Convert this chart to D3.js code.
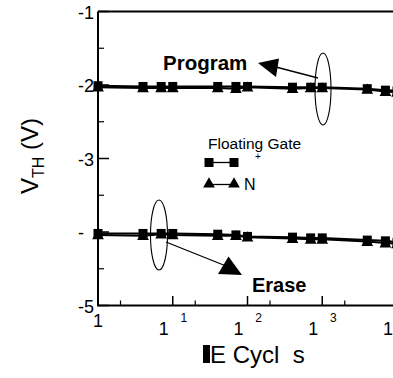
<!DOCTYPE html>
<html><head><meta charset="utf-8">
<script src="https://cdn.jsdelivr.net/npm/d3@7"></script>
<style>
body{margin:0;background:#fff;}
svg{display:block;font-family:"Liberation Sans",Arial,sans-serif;}
</style></head>
<body><svg id="c" width="393" height="378"></svg>
<script>
const cycles = [1, 4, 7, 10, 40, 70, 100, 400, 700, 1000, 4000, 7000, 10000];
const progP = [-2.01,-2.02,-2.02,-2.02,-2.02,-2.02,-2.02,-2.03,-2.03,-2.03,-2.05,-2.07,-2.08];
const progN = [-2.03,-2.04,-2.04,-2.04,-2.04,-2.05,-2.03,-2.05,-2.04,-2.04,-2.06,-2.09,-2.10];
const eraseP = [-4.02,-4.02,-4.02,-4.02,-4.03,-4.04,-4.06,-4.07,-4.08,-4.08,-4.11,-4.12,-4.14];
const eraseN = [-4.04,-4.05,-4.03,-4.04,-4.05,-4.05,-4.07,-4.09,-4.10,-4.10,-4.13,-4.15,-4.16];
const yTicks = [-1,-2,-3,-4,-5];
const yTickLabels = ["-1","-2","-3","-","-5"];
const xDecades = [1,10,100,1000,10000];
const xSup = ["","1","2","3","4"];

const svg = d3.select("#c");
const x = d3.scaleLog().domain([1,10000]).range([98,397]);
const y = d3.scaleLinear().domain([-5,-1]).range([305.5,11.5]);

// frame
svg.append("path").attr("d",`M98,11.5H393M98,11.5V305.5H393`).attr("fill","none").attr("stroke","#000").attr("stroke-width",2);

// y ticks
yTicks.forEach(v=>{
  svg.append("line").attr("x1",98).attr("x2",109).attr("y1",y(v)).attr("y2",y(v)).attr("stroke","#000").attr("stroke-width",1.5);
});
[-1.5,-2.5,-3.5,-4.5].forEach(v=>{
  svg.append("line").attr("x1",98).attr("x2",104).attr("y1",y(v)).attr("y2",y(v)).attr("stroke","#000").attr("stroke-width",1.2);
});
yTicks.forEach((v,i)=>{
  const t = svg.append("text").attr("x",94).attr("y",y(v)+7).attr("text-anchor","end").attr("font-size",18);
  t.append("tspan").text(yTickLabels[i]);
  if(yTickLabels[i]==="-") t.append("tspan").attr("fill-opacity",0).text("4");
});
// x ticks
xDecades.forEach(v=>{
  svg.append("line").attr("x1",x(v)).attr("x2",x(v)).attr("y1",305.5).attr("y2",296).attr("stroke","#000").attr("stroke-width",1.5);
});
[2,20,200,2000].forEach(v=>{
  svg.append("line").attr("x1",x(v)).attr("x2",x(v)).attr("y1",305.5).attr("y2",300.5).attr("stroke","#000").attr("stroke-width",1.2);
});
xDecades.forEach((v,i)=>{
  if(i===0){
    svg.append("text").attr("x",x(v)).attr("y",327).attr("text-anchor","middle").attr("font-size",18).text("1");
  } else {
    svg.append("text").attr("x",x(v)-9).attr("y",335).attr("text-anchor","middle").attr("font-size",18).text("1");
    if(i<4) svg.append("text").attr("x",x(v)+11).attr("y",322).attr("text-anchor","middle").attr("font-size",12).text(xSup[i]);
  }
});

// axis titles
const yl = svg.append("text").attr("transform","translate(38,156) rotate(-90)").attr("text-anchor","middle").attr("font-size",24);
yl.append("tspan").text("V");
yl.append("tspan").attr("font-size",16).attr("dy",6).text("TH");
yl.append("tspan").attr("dy",-6).text(" (V)");
svg.append("rect").attr("x",203).attr("y",345).attr("width",7).attr("height",18).attr("fill","#000");
svg.append("text").attr("x",210).attr("y",363).attr("font-size",24).attr("xml:space","preserve").text("E Cycl  s");

// caption fragment (faint, mostly below the edge)
svg.append("text").attr("x",22).attr("y",391).attr("font-size",15).attr("fill","#bbb").attr("xml:space","preserve")
  .text("Figure 7.  Endurance characteristics of the");

// series
const series = [
  {vals:progN, shape:"tri"},{vals:eraseN, shape:"tri"},
  {vals:progP, shape:"sq"},{vals:eraseP, shape:"sq"}
];
const line = d3.line().x(d=>x(d[0])).y(d=>y(d[1]));
const triPath = d3.symbol().type(d3.symbolTriangle).size(60);
series.forEach(s=>{
  const pts = cycles.map((c,i)=>[c,s.vals[i]]);
  svg.append("path").attr("d",line(pts)).attr("fill","none").attr("stroke","#000").attr("stroke-width",2);
});
series.forEach(s=>{
  const pts = cycles.map((c,i)=>[c,s.vals[i]]);
  if(s.shape==="sq"){
    svg.selectAll(null).data(pts).enter().append("rect")
      .attr("x",d=>x(d[0])-4.5).attr("y",d=>y(d[1])-4.5).attr("width",9).attr("height",9).attr("fill","#000");
  } else {
    svg.selectAll(null).data(pts).enter().append("path")
      .attr("transform",d=>`translate(${x(d[0])},${y(d[1])+1})`).attr("d",triPath()).attr("fill","#000");
  }
});

// legend
svg.append("text").attr("x",208).attr("y",149).attr("font-size",15.5).text("Floating Gate");
svg.append("line").attr("x1",209).attr("x2",234).attr("y1",162.5).attr("y2",162.5).attr("stroke","#000").attr("stroke-width",1.3);
[209,234].forEach(px=>svg.append("rect").attr("x",px-4.5).attr("y",158).attr("width",9).attr("height",9).attr("fill","#000"));
svg.append("text").attr("x",258).attr("y",160).attr("text-anchor","middle").attr("font-size",10).text("+");
svg.append("line").attr("x1",209).attr("x2",234).attr("y1",184.5).attr("y2",184.5).attr("stroke","#000").attr("stroke-width",1.3);
[209,234].forEach(px=>svg.append("path").attr("transform",`translate(${px},184)`).attr("d",triPath()).attr("fill","#000"));
svg.append("text").attr("x",244).attr("y",190).attr("font-size",16).text("N");

// ellipses
svg.append("ellipse").attr("cx",323).attr("cy",89).attr("rx",8).attr("ry",36).attr("fill","none").attr("stroke","#000").attr("stroke-width",1.1);
svg.append("ellipse").attr("cx",159).attr("cy",235).attr("rx",8.5).attr("ry",35).attr("fill","none").attr("stroke","#000").attr("stroke-width",1.1);

// arrows
svg.append("line").attr("x1",318).attr("y1",78).attr("x2",272).attr("y2",66).attr("stroke","#000").attr("stroke-width",1.3);
svg.append("path").attr("d","M258,63 L279,58.5 L276,77 Z").attr("fill","#000");
svg.append("line").attr("x1",166).attr("y1",242).attr("x2",226).attr("y2",266).attr("stroke","#000").attr("stroke-width",1.3);
svg.append("path").attr("d","M242,275 L218,274 L228.5,256.5 Z").attr("fill","#000");

svg.append("text").attr("x",163).attr("y",70).attr("font-size",20.5).attr("font-weight","bold").text("Program");
svg.append("text").attr("x",252).attr("y",292).attr("font-size",20).attr("font-weight","bold").text("Erase");
</script></body></html>
